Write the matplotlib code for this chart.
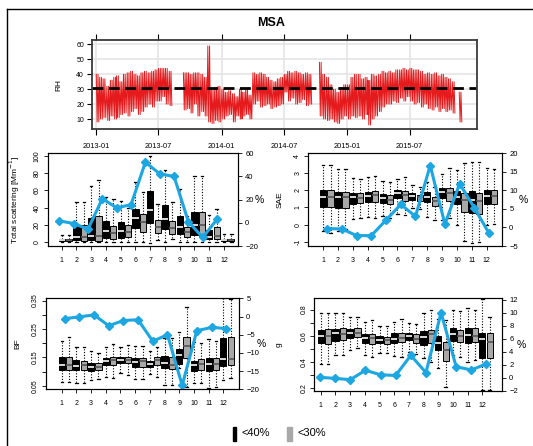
import numpy as np
import pandas as pd
import matplotlib
matplotlib.use("Agg")
import matplotlib.pyplot as plt
import matplotlib.dates as mdates
from matplotlib.lines import Line2D
from matplotlib.patches import Rectangle

plt.rcParams['font.family'] = ['Liberation Sans', 'DejaVu Sans']

W, H = 533, 446

# ---- RH time series: (low, high) per third of a month (1st, 11th, 21st) ----
nan = np.nan
rh_low_2013 = [8, 10, 11, 9, 12, 10, 11, 13, 14, 12, 15, 17, 13, 15, 18, 20, 18, 22,
               22, 25, 20, 19, nan, nan, nan, 16, 17, 14, 20, 12, 15, 12, 8, 7, 9, 8]
rh_high_2013 = [40, 38, 37, 32, 36, 38, 39, 35, 40, 41, 42, 40, 39, 41, 42, 41, 42, 43,
                44, 44, 44, 42, nan, nan, nan, 41, 41, 40, 41, 41, 40, 38, 59, 30, 31, 32]
rh_low_2014 = [10, 12, 13, 8, 12, 10, 12, 13, 10, 20, 22, 18, 19, 20, 17, 18, 19, 20,
               28, 22, 24, 20, 21, 23, 19, 20, nan, nan, 12, 10, 9, 10, 8, 7, 10, 12]
rh_high_2014 = [30, 28, 29, 27, 25, 30, 28, 30, 26, 41, 40, 41, 40, 38, 36, 35, 37, 38,
                40, 42, 41, 42, 41, 40, 41, 40, nan, nan, 48, 40, 38, 33, 30, 28, 31, 33]
rh_low_2015 = [10, 12, 11, 12, 10, 13, 6, 10, 12, 15, 18, 20, 20, 22, 21, 24, 22, 25,
               22, 20, 21, 18, 20, 17, 16, 18, 15, 17, 15, 16, 14, nan, 8, nan, nan, nan]
rh_high_2015 = [33, 38, 40, 40, 37, 38, 36, 40, 39, 40, 42, 41, 42, 41, 43, 43, 44, 43,
                44, 43, 43, 42, 40, 41, 40, 41, 39, 40, 38, 37, 35, nan, 28, nan, nan, nan]
rh_mean = 31

# ---- monthly boxes: [whisker low, q1, median, q3, whisker high] ----
scat_40 = [[0, 1.5, 3, 4.2, 8.5], [0, 2.7, 6, 19, 46], [0, 2.7, 7.7, 27.7, 65],
           [0, 5.4, 13, 24.6, 52], [0, 5.4, 12.7, 23.5, 48], [0, 17, 28, 38.5, 70],
           [-1, 22, 37, 59, 100], [0, 15.8, 27, 42.7, 83], [0, 9.2, 17.3, 30.4, 61],
           [0, 8.5, 20, 35.4, 76], [0, 3.5, 6.5, 14.2, 31], [0, 1.5, 2.7, 4.2, 9]]
scat_30 = [[0, 1, 2.5, 4, 8.5], [0, 2, 6, 20, 46], [0, 2, 7.3, 30.4, 72],
           [0, 4.2, 10.4, 18.8, 50], [0, 6.5, 12, 20.4, 40], [0, 12.3, 23.8, 32.7, 58],
           [3, 10.4, 17.3, 25.8, 44], [4, 9.2, 16.2, 24.6, 46], [0, 6.5, 12, 17.3, 30],
           [0, 7.3, 19.6, 35.4, 76], [0, 3.8, 7.7, 17.3, 38], [0, 1.2, 2.5, 4, 9]]
scat_pct = [1.7, -0.6, -5.4, 20.9, 12.9, 15.7, 52.3, 42.3, 40.0, 0.9, -12.6, 3.1]

sae_40 = [[-0.36, 1.04, 1.6, 2.02, 3.46], [-0.38, 0.95, 1.6, 1.88, 3.22], [0.3, 1.2, 1.6, 1.82, 2.74],
          [0.46, 1.33, 1.65, 1.92, 2.77], [0.48, 1.24, 1.55, 1.78, 2.52], [0.6, 1.57, 1.85, 2.02, 2.64],
          [0.94, 1.43, 1.65, 1.82, 2.29], [0.46, 1.3, 1.6, 1.92, 2.5], [0.26, 1.53, 1.88, 2.15, 2.93],
          [-0.03, 1.18, 1.6, 1.96, 3.18], [-1.1, 0.7, 1.45, 1.96, 3.67], [-0.03, 1.18, 1.65, 2.02, 3.28]]
sae_30 = [[-0.47, 1.0, 1.6, 2.0, 3.5], [-0.28, 0.95, 1.6, 1.88, 3.22], [0.4, 1.24, 1.55, 1.82, 2.68],
          [0.4, 1.33, 1.7, 1.96, 2.83], [0.36, 1.18, 1.45, 1.72, 2.48], [0.56, 1.4, 1.75, 1.96, 2.8],
          [0.9, 1.37, 1.6, 1.72, 2.2], [0.26, 1.08, 1.35, 1.59, 2.2], [0.36, 1.37, 1.85, 2.15, 3.28],
          [-0.94, 0.75, 1.45, 1.82, 3.57], [-1.0, 0.6, 1.35, 1.86, 3.67], [0.03, 1.18, 1.65, 2.02, 3.24]]
sae_pct = [-0.3, -0.4, -2.2, -2.2, 2.0, 6.2, 3.0, 16.7, 0.9, 11.8, 5.3, -1.6]

bf_40 = [[0.065, 0.106, 0.125, 0.150, 0.209], [0.059, 0.106, 0.120, 0.141, 0.185],
         [0.071, 0.104, 0.115, 0.132, 0.171], [0.083, 0.124, 0.138, 0.147, 0.185],
         [0.094, 0.132, 0.140, 0.150, 0.188], [0.075, 0.118, 0.135, 0.147, 0.190],
         [0.092, 0.116, 0.127, 0.139, 0.171], [0.053, 0.112, 0.130, 0.155, 0.218],
         [0.112, 0.126, 0.160, 0.179, 0.241], [0.059, 0.104, 0.125, 0.139, 0.203],
         [0.042, 0.103, 0.127, 0.149, 0.214], [0.071, 0.120, 0.145, 0.217, 0.358]]
bf_30 = [[0.065, 0.106, 0.125, 0.153, 0.223], [0.059, 0.106, 0.122, 0.139, 0.185],
         [0.073, 0.106, 0.115, 0.130, 0.167], [0.079, 0.124, 0.140, 0.153, 0.198],
         [0.089, 0.132, 0.142, 0.153, 0.193], [0.075, 0.118, 0.138, 0.149, 0.190],
         [0.083, 0.124, 0.140, 0.150, 0.188], [0.053, 0.108, 0.125, 0.153, 0.218],
         [0.047, 0.147, 0.190, 0.223, 0.329], [0.059, 0.106, 0.128, 0.145, 0.200],
         [0.047, 0.106, 0.128, 0.147, 0.209], [0.077, 0.124, 0.145, 0.221, 0.356]]
bf_pct = [-0.6, -0.1, 0.45, -2.55, -1.1, -0.9, -6.8, -5.0, -18.9, -3.9, -3.0, -3.3]

g_40 = [[0.38, 0.541, 0.597, 0.644, 0.772], [0.451, 0.562, 0.618, 0.649, 0.772],
        [0.49, 0.58, 0.617, 0.649, 0.741], [0.451, 0.546, 0.58, 0.61, 0.708],
        [0.464, 0.546, 0.57, 0.597, 0.674], [0.444, 0.541, 0.575, 0.618, 0.708],
        [0.477, 0.567, 0.595, 0.623, 0.695], [0.426, 0.528, 0.59, 0.636, 0.772],
        [0.349, 0.49, 0.54, 0.597, 0.726], [0.451, 0.559, 0.61, 0.656, 0.797],
        [0.40, 0.541, 0.605, 0.656, 0.815], [0.18, 0.426, 0.575, 0.623, 0.885]]
g_30 = [[0.38, 0.536, 0.6, 0.649, 0.777], [0.451, 0.567, 0.615, 0.656, 0.772],
        [0.503, 0.592, 0.623, 0.656, 0.741], [0.438, 0.536, 0.58, 0.613, 0.72],
        [0.464, 0.533, 0.565, 0.587, 0.674], [0.438, 0.549, 0.58, 0.623, 0.728],
        [0.459, 0.541, 0.575, 0.61, 0.687], [0.40, 0.541, 0.61, 0.644, 0.797],
        [0.208, 0.405, 0.49, 0.554, 0.72], [0.438, 0.554, 0.6, 0.644, 0.79],
        [0.413, 0.549, 0.6, 0.656, 0.797], [0.18, 0.426, 0.555, 0.618, 0.741]]
g_pct = [0.06, -0.1, -0.3, 1.15, 0.45, 0.35, 3.45, 0.8, 10.0, 1.7, 1.2, 2.15]

months = np.arange(1, 13)
BLUE = '#1CA6E2'
GREY = '#A8A8A8'


def rect(left, top, right, bottom):
    return [left / W, 1 - bottom / H, (right - left) / W, (bottom - top) / H]


def stats(rows):
    return [dict(whislo=r[0], q1=r[1], med=r[2], q3=r[3], whishi=r[4], fliers=[]) for r in rows]


fig = plt.figure(figsize=(W / 100, H / 100), dpi=100)

# outer frame (top and left)
fig.add_artist(Line2D([7 / W, 1], [1 - 9 / H] * 2, color='black', lw=1.0))
fig.add_artist(Line2D([7 / W] * 2, [0, 1 - 9 / H], color='black', lw=1.0))

fig.text(271 / W, 1 - 23 / H, 'MSA', ha='center', va='center', fontsize=9, fontweight='bold')

# ---- RH panel ----
ax = fig.add_axes(rect(91.7, 40, 476.7, 129.3))
starts = pd.DatetimeIndex([pd.Timestamp(y, m, d) for y in (2013, 2014, 2015)
                          for m in range(1, 13) for d in (1, 11, 21)])
lo = np.array(rh_low_2013 + rh_low_2014 + rh_low_2015, float)
hi = np.array(rh_high_2013 + rh_high_2014 + rh_high_2015, float)
# each 10-day window swings high/low twice
offsets = [1.25, 3.75, 6.25, 8.75]
t = np.empty(4 * len(starts), dtype='datetime64[ns]')
v = np.empty(4 * len(starts))
for k, off in enumerate(offsets):
    t[k::4] = (starts + pd.Timedelta(days=off)).values
    v[k::4] = hi if k % 2 == 0 else lo
ax.plot(t, v, color='#E41A1C', lw=0.7)
ax.axhline(rh_mean, color='black', lw=2.0, dashes=(3.9, 2.0))
ax.set_xlim(pd.Timestamp('2012-12-20'), pd.Timestamp('2016-01-12'))
ax.set_ylim(3.1, 63)
dticks = pd.to_datetime(['2013-01-01', '2013-07-01', '2014-01-01', '2014-07-01', '2015-01-01', '2015-07-01'])
ax.set_xticks(dticks)
ax.xaxis.set_major_formatter(mdates.DateFormatter('%Y-%m'))
ax.set_yticks([10, 20, 30, 40, 50, 60])
ax.grid(color='#E3E3E3', lw=1.1)
ax.set_axisbelow(True)
ax.tick_params(axis='x', top=True, direction='out', length=4, width=0.8, labelsize=5.3, pad=6)
ax.tick_params(axis='y', direction='out', length=3.5, width=0.8, labelsize=5, pad=2)
for s in ax.spines.values():
    s.set_color('#3A3A3A')
    s.set_linewidth(1.3)
ax.set_ylabel('RH', fontsize=6)
ax.yaxis.set_label_coords(-0.075, 0.5)


def box_panel(r, black, grey, pct, xlim, ylim, yticks, ylabels, plim, pticks,
              x0, dx, ylabel, ylab_x, pct_x):
    ax = fig.add_axes(rect(*r))
    for rows, pos, face, medc in ((black, months, 'black', 'white'),
                                  (grey, months + 0.5, GREY, '#555555')):
        ax.bxp(stats(rows), positions=pos, widths=0.42, patch_artist=True,
               showfliers=False, manage_ticks=False, capwidths=0.16,
               boxprops=dict(facecolor=face, edgecolor='black', linewidth=0.7),
               medianprops=dict(color=medc, linewidth=1.2),
               whiskerprops=dict(color='black', linestyle=(0, (1, 1.5)), linewidth=0.8),
               capprops=dict(color='black', linewidth=0.9))
    ax.set_xlim(*xlim)
    ax.set_ylim(*ylim)
    ax.set_xticks(months)
    ax.set_xticklabels([str(m) for m in months])
    ax.set_yticks(yticks)
    ax.set_yticklabels(ylabels)
    ax.tick_params(direction='out', length=3, width=0.6, labelsize=5, pad=2)
    ax.tick_params(axis='x', pad=5)
    for lab in ax.get_yticklabels():
        lab.set_rotation(90)
        lab.set_va('center')
    ax.set_ylabel(ylabel, fontsize=6)
    ax.yaxis.set_label_coords(ylab_x, 0.5)
    for s in ax.spines.values():
        s.set_linewidth(0.8)

    ax2 = ax.twinx()
    ax2.plot(x0 + dx * np.arange(12), pct, color=BLUE, lw=2.2, marker='D', ms=4.5,
             mec=BLUE, mfc=BLUE)
    ax2.set_ylim(*plim)
    ax2.set_yticks(pticks)
    ax2.tick_params(direction='out', length=3, width=0.6, labelsize=5.5, pad=2)
    ax2.set_ylabel('%', fontsize=7.5, rotation=0, ha='center', va='center')
    ax2.yaxis.set_label_coords(pct_x, 0.5)
    return ax


box_panel((47.7, 153.3, 238.3, 246), scat_40, scat_30, scat_pct,
          (0.05, 12.97), (-4.3, 102.8), [0, 20, 40, 60, 80, 100], ['0', '20', '40', '60', '80', '100'],
          (-20, 60), [-20, 0, 20, 40, 60], 0.84, 0.972,
          'Total scattering [Mm$^{-1}$]', -0.136, 1.11)

box_panel((308.3, 153.3, 502.3, 246), sae_40, sae_30, sae_pct,
          (0.0, 13.05), (-1.25, 4.16), [-1, 0, 1, 2, 3, 4], ['-1', '0', '1', '2', '3', '4'],
          (-5, 20), [-5, 0, 5, 10, 15, 20], 1.27, 0.99,
          'SAE', -0.129, 1.11)

box_panel((46, 298.3, 239.3, 389.3), bf_40, bf_30, bf_pct,
          (-0.07, 13.09), (0.038, 0.358), [0.05, 0.10, 0.15, 0.20, 0.25, 0.30, 0.35],
          ['0.05', '', '0.15', '', '0.25', '', '0.35'],
          (-19.8, 5), [-20, -15, -10, -5, 0, 5], 1.2, 1.0,
          'BF', -0.129, 1.115)

box_panel((314.3, 298.3, 502.3, 390.7), g_40, g_30, g_pct,
          (0.56, 13.36), (0.177, 0.887), [0.2, 0.3, 0.4, 0.5, 0.6, 0.7, 0.8],
          ['0.2', '', '0.4', '', '0.6', '', '0.8'],
          (-2, 12.25), [-2, 0, 2, 4, 6, 8, 10, 12], 0.95, 1.03,
          'g', -0.17, 1.10)

# legend
fig.add_artist(Rectangle((232.5 / W, 1 - 441 / H), 3.8 / W, 14 / H, color='black', transform=fig.transFigure))
fig.text(242 / W, 1 - 433.5 / H, '<40%', fontsize=8, va='center', ha='left')
fig.add_artist(Rectangle((287 / W, 1 - 441 / H), 4.5 / W, 14 / H, color=GREY, transform=fig.transFigure))
fig.text(297 / W, 1 - 433.5 / H, '<30%', fontsize=8, va='center', ha='left')

fig.savefig('out.png', dpi=100)
